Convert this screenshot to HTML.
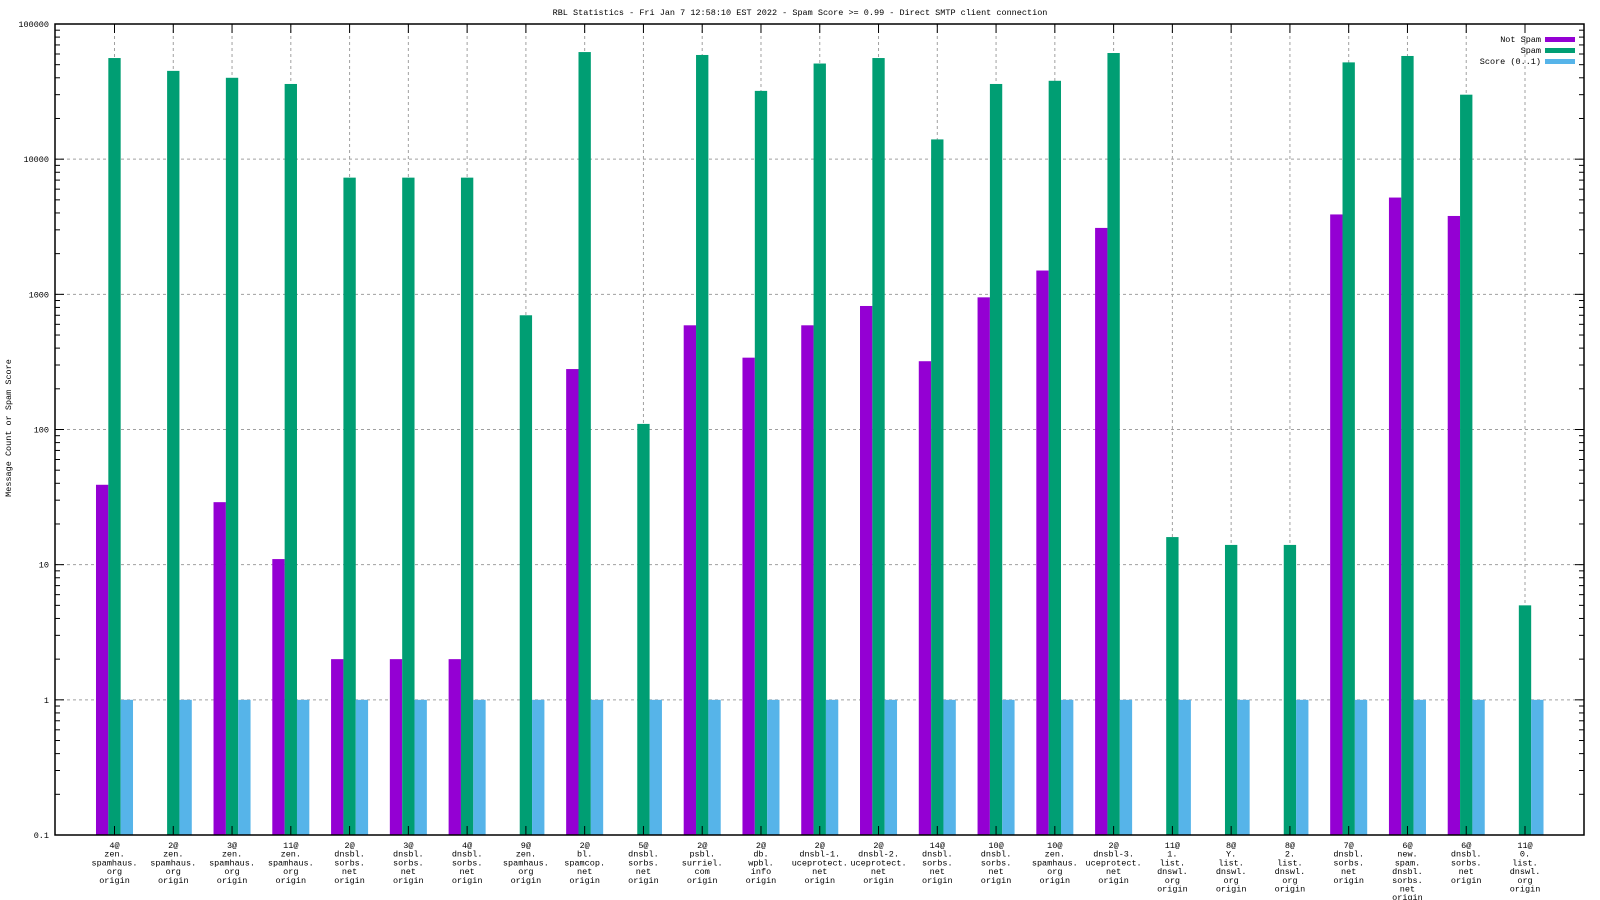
<!DOCTYPE html>
<html><head><meta charset="utf-8"><style>
html,body{margin:0;padding:0;background:#fff;}
svg{display:block;font-family:"Liberation Mono","DejaVu Sans Mono",monospace;}
</style></head><body>
<svg id="chart" width="1600" height="900" viewBox="0 0 1600 900" xmlns="http://www.w3.org/2000/svg">
<rect width="1600" height="900" fill="#fff"/>
<text x="800" y="15" text-anchor="middle" font-size="8.5">RBL Statistics - Fri Jan  7 12:58:10 EST 2022 - Spam Score &gt;= 0.99 - Direct SMTP client connection</text>
<text transform="translate(11,428) rotate(-90)" text-anchor="middle" font-size="8.5">Message Count or Spam Score</text>
<g id="grid"></g><g id="bars"></g><g id="axes"></g><g id="labels"></g>
<g>
<text x="1541" y="42" text-anchor="end" font-size="8.5">Not Spam</text>
<rect x="1545" y="37" width="30" height="5" fill="#9400d3"/>
<text x="1541" y="53" text-anchor="end" font-size="8.5">Spam</text>
<rect x="1545" y="48" width="30" height="5" fill="#009e73"/>
<text x="1541" y="64" text-anchor="end" font-size="8.5">Score (0..1)</text>
<rect x="1545" y="59" width="30" height="5" fill="#56b4e9"/>
</g>
</svg>
<script>
const categories = [
 ["4@","zen.","spamhaus.","org","origin"],["2@","zen.","spamhaus.","org","origin"],["3@","zen.","spamhaus.","org","origin"],["11@","zen.","spamhaus.","org","origin"],
 ["2@","dnsbl.","sorbs.","net","origin"],["3@","dnsbl.","sorbs.","net","origin"],["4@","dnsbl.","sorbs.","net","origin"],["9@","zen.","spamhaus.","org","origin"],
 ["2@","bl.","spamcop.","net","origin"],["5@","dnsbl.","sorbs.","net","origin"],["2@","psbl.","surriel.","com","origin"],["2@","db.","wpbl.","info","origin"],
 ["2@","dnsbl-1.","uceprotect.","net","origin"],["2@","dnsbl-2.","uceprotect.","net","origin"],["14@","dnsbl.","sorbs.","net","origin"],["10@","dnsbl.","sorbs.","net","origin"],
 ["10@","zen.","spamhaus.","org","origin"],["2@","dnsbl-3.","uceprotect.","net","origin"],["11@","1.","list.","dnswl.","org","origin"],["8@","Y.","list.","dnswl.","org","origin"],
 ["8@","2.","list.","dnswl.","org","origin"],["7@","dnsbl.","sorbs.","net","origin"],["6@","new.","spam.","dnsbl.","sorbs.","net","origin"],["6@","dnsbl.","sorbs.","net","origin"],
 ["11@","0.","list.","dnswl.","org","origin"]
];
const notSpam = [39,0,29,11,2,2,2,0,280,0,590,340,590,820,320,950,1500,3100,0,0,0,3900,5200,3800,0];
const spam = [56000,45000,40000,36000,7300,7300,7300,700,62000,110,59000,32000,51000,56000,14000,36000,38000,61000,16,14,14,52000,58000,30000,5];
const score = [1,1,1,1,1,1,1,1,1,1,1,1,1,1,1,1,1,1,1,1,1,1,1,1,1];
const yTicks = [0.1,1,10,100,1000,10000,100000];
const yTickLabels = ["0.1","1","10","100","1000","10000","100000"];

const NS="http://www.w3.org/2000/svg";
const L=55,R=1584,T=24,B=835;
const yMin=0.1,yMax=100000;
function y(v){return T+(Math.log10(yMax)-Math.log10(v))/(Math.log10(yMax)-Math.log10(yMin))*(B-T);}
const x0=114.5,step=(1525-114.5)/(categories.length-1);
function x(i){return x0+i*step;}
const bw=step*0.21;
function mk(tag,attrs,parent){const e=document.createElementNS(NS,tag);for(const k in attrs)e.setAttribute(k,attrs[k]);parent.appendChild(e);return e;}
const grid=document.getElementById('grid'),bars=document.getElementById('bars'),axes=document.getElementById('axes'),labels=document.getElementById('labels');

yTicks.forEach((v,i)=>{
 const yy=y(v);
 if(i>0&&i<yTicks.length-1){
  const g=mk('line',{x1:L,x2:R,y1:yy,y2:yy,stroke:'#a0a0a0','stroke-dasharray':'3,3','stroke-width':1},grid);
  
  
 }
 const t=mk('text',{x:L-6,y:yy+3,'text-anchor':'end','font-size':'8.5'},labels);
 t.textContent=yTickLabels[i];
 
 
 [[L,L+9],[R,R-9]].forEach(p=>mk('line',{x1:p[0],x2:p[1],y1:yy,y2:yy,stroke:'#000','stroke-width':1},axes));
 if(i<yTicks.length-1){
  for(let m=2;m<=9;m++){const ym=y(v*m);
   [[L,L+5],[R,R-5]].forEach(p=>mk('line',{x1:p[0],x2:p[1],y1:ym,y2:ym,stroke:'#000','stroke-width':1},axes));}
 }
});
categories.forEach((c,i)=>{
 const cx=x(i);
 const g=mk('line',{x1:cx,x2:cx,y1:T,y2:B,stroke:'#a0a0a0','stroke-dasharray':'3,3','stroke-width':1},grid);
 
 
 mk('line',{x1:cx,x2:cx,y1:T,y2:T+9,stroke:'#000'},axes);
 mk('line',{x1:cx,x2:cx,y1:B,y2:B-9,stroke:'#000'},axes);
 const t=mk('text',{x:cx,y:B+13,'text-anchor':'middle','font-size':'8.5'},labels);
 
 
 c.forEach((ln,j)=>{const s=mk('tspan',{x:cx,dy:j?8.7:0},t);s.textContent=ln;});
 [[notSpam,'#9400d3',-1,'bar-not-spam'],[spam,'#009e73',0,'bar-spam'],[score,'#56b4e9',1,'bar-score']].forEach(([arr,col,off,nm])=>{
  const v=arr[i]; if(!(v>0))return;
  const yy=Math.max(T,y(v));
  const r=mk('rect',{x:cx+off*bw-bw/2,y:yy,width:bw,height:B-yy,fill:col},bars);
  
  
 });
});
const fr=mk('rect',{x:L,y:T,width:R-L,height:B-T,fill:'none',stroke:'#000','stroke-width':1.5},axes);


</script>
</body></html>
